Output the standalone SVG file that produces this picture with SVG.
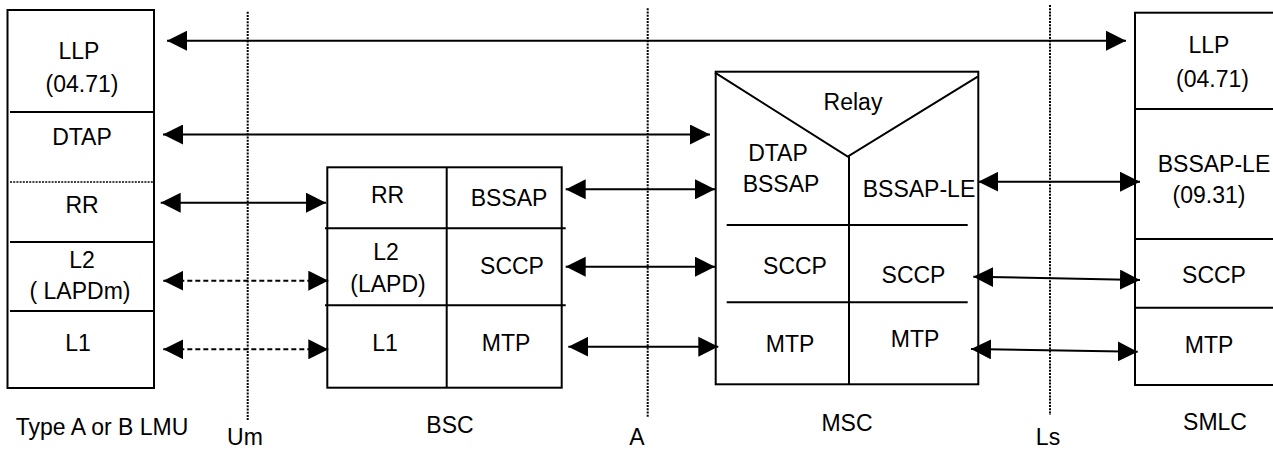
<svg xmlns="http://www.w3.org/2000/svg" width="1273" height="450" viewBox="0 0 1273 450">
<style>
.box{fill:#fff;stroke:#000;stroke-width:2}
.ln{stroke:#000;stroke-width:2;fill:none}
.dot{stroke:#000;stroke-width:2;stroke-dasharray:2,1.2;fill:none}
.arr{stroke:#000;stroke-width:2;fill:none;marker-start:url(#ah);marker-end:url(#ah)}
.dash{stroke-dasharray:5,3}
text{font-family:"Liberation Sans",Arial,sans-serif;font-size:23px;fill:#000;text-anchor:middle}
</style>
<defs>
<marker id="ah" markerUnits="userSpaceOnUse" markerWidth="20" markerHeight="20" refX="20" refY="10" orient="auto-start-reverse" viewBox="0 0 20 20">
<path d="M0,0 L20,10 L0,20 z" fill="#000"/>
</marker>
</defs>
<rect width="1273" height="450" fill="#fff"/>

<g id="boundaries">
<line class="dot" x1="247.7" y1="11.7" x2="247.7" y2="421"/>
<line class="dot" x1="647.7" y1="8.3" x2="647.7" y2="417.7"/>
<line class="dot" x1="1050" y1="5" x2="1050" y2="415"/>
<text x="245" y="445">Um</text>
<text x="637" y="445">A</text>
<text x="1048" y="445">Ls</text>
</g>

<g id="lmu">
<rect class="box" x="7.5" y="10" width="146.5" height="378"/>
<line class="ln" x1="10" y1="112" x2="154" y2="112"/>
<line class="dot" x1="10" y1="182" x2="154" y2="182" style="stroke-width:1.5"/>
<line class="ln" x1="10" y1="242" x2="154" y2="242"/>
<line class="ln" x1="10" y1="311" x2="154" y2="311"/>
<text x="79" y="59">LLP</text>
<text x="82" y="92">(04.71)</text>
<text x="82" y="145">DTAP</text>
<text x="82" y="213">RR</text>
<text x="82" y="268">L2</text>
<text x="80" y="299">( LAPDm)</text>
<text x="78" y="351">L1</text>
<text x="102" y="435">Type A or B LMU</text>
</g>

<g id="bsc">
<rect class="box" x="327.3" y="167.3" width="234.4" height="220.4"/>
<line class="ln" x1="446.7" y1="167.3" x2="446.7" y2="387.7"/>
<line class="ln" x1="325" y1="228.3" x2="565.7" y2="228.3"/>
<line class="ln" x1="325" y1="305.3" x2="565.7" y2="305.3"/>
<text x="387.5" y="203">RR</text>
<text x="509" y="206">BSSAP</text>
<text x="386" y="260">L2</text>
<text x="388" y="292">(LAPD)</text>
<text x="512" y="274">SCCP</text>
<text x="385" y="351">L1</text>
<text x="506" y="351">MTP</text>
<text x="450" y="433">BSC</text>
</g>

<g id="msc">
<rect class="box" x="715.7" y="71.7" width="262.6" height="312.6"/>
<polyline class="ln" points="715,72.7 847.7,156.5 977.7,76.7"/>
<line class="ln" x1="849" y1="156" x2="849" y2="384.3"/>
<line class="ln" x1="726.7" y1="225" x2="967.7" y2="225"/>
<line class="ln" x1="726.7" y1="302.3" x2="967.7" y2="302.3"/>
<text x="853" y="110">Relay</text>
<text x="778" y="161">DTAP</text>
<text x="781" y="192">BSSAP</text>
<text x="919" y="197">BSSAP-LE</text>
<text x="795" y="274">SCCP</text>
<text x="913.5" y="283">SCCP</text>
<text x="790" y="352">MTP</text>
<text x="915" y="347">MTP</text>
<text x="847" y="431">MSC</text>
</g>

<g id="smlc">
<rect class="box" x="1135" y="12.7" width="200" height="372.3"/>
<line class="ln" x1="1135" y1="109" x2="1273" y2="109"/>
<line class="ln" x1="1135" y1="239" x2="1273" y2="239"/>
<line class="ln" x1="1135" y1="307.7" x2="1273" y2="307.7"/>
<text x="1209" y="53">LLP</text>
<text x="1212.5" y="87">(04.71)</text>
<text x="1214" y="172">BSSAP-LE</text>
<text x="1209" y="203">(09.31)</text>
<text x="1214" y="283">SCCP</text>
<text x="1209" y="353">MTP</text>
<text x="1215" y="430">SMLC</text>
</g>

<g id="connectors">
<line class="arr" x1="167" y1="40.7" x2="1126" y2="40.7"/>
<line class="arr" x1="163" y1="134.5" x2="710" y2="134.5"/>
<line class="arr" x1="160.7" y1="202.7" x2="326" y2="202.7"/>
<line class="arr dash" x1="163.3" y1="280.7" x2="328.3" y2="280.7"/>
<line class="arr dash" x1="163.3" y1="349.3" x2="328.3" y2="349.3"/>
<line class="arr" x1="565.7" y1="189.3" x2="715" y2="189.3"/>
<line class="arr" x1="565.7" y1="266.7" x2="715" y2="266.7"/>
<line class="arr" x1="568.3" y1="346.7" x2="718.3" y2="346.7"/>
<line class="arr" x1="978.3" y1="181.7" x2="1140" y2="181.7"/>
<line class="arr" x1="973.3" y1="276.7" x2="1140" y2="280"/>
<line class="arr" x1="971" y1="349" x2="1137.7" y2="351.7"/>
</g>
</svg>
